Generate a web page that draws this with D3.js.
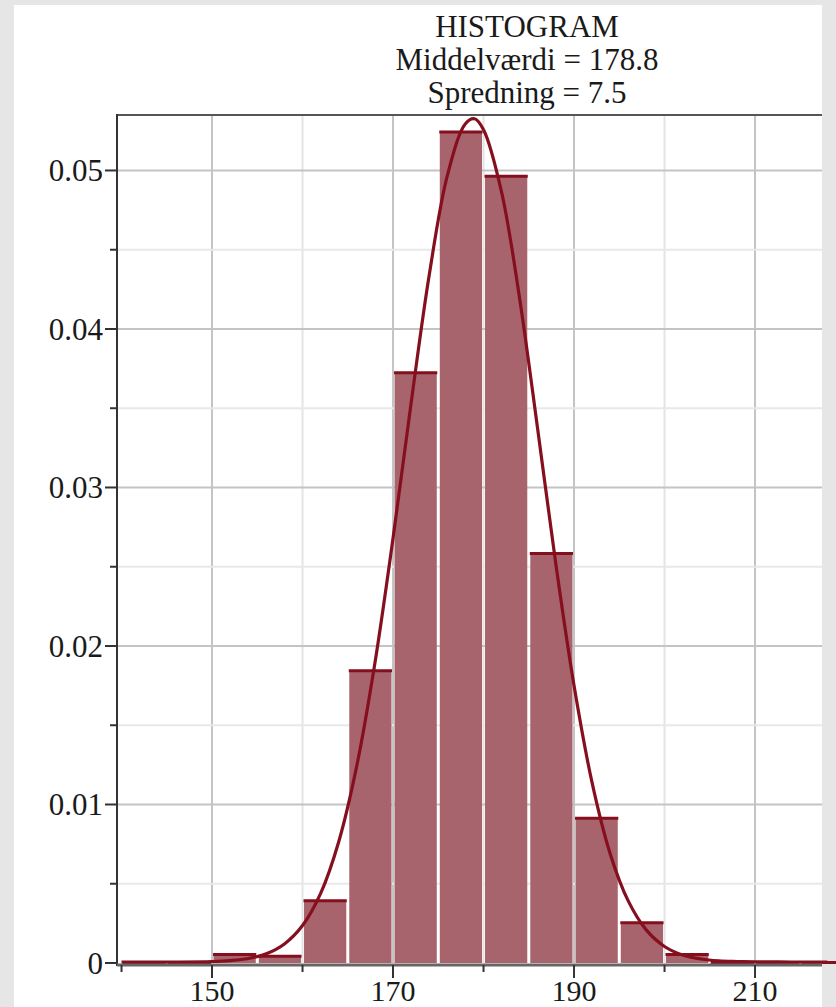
<!DOCTYPE html>
<html>
<head>
<meta charset="utf-8">
<script src="https://cdn.jsdelivr.net/npm/d3@7"></script>
<style>
  body { margin: 0; background: #e6e6e6; }
  #chart { position: absolute; left: 0; top: 0; }
</style>
</head>
<body>
<div id="chart"></div>
<script>
// histogram bins (left edges, width 5) and densities
var binStarts = [140, 145, 150, 155, 160, 165, 170, 175, 180, 185, 190, 195, 200, 205, 210, 215];
var binDensity = [0, 0, 0.0005, 0.0004, 0.0039, 0.0184, 0.0372, 0.0524, 0.0496, 0.0258, 0.0091, 0.0025, 0.0005, 0, 0, 0];
var binWidth = 5;

// fitted normal curve
var curveX = [140, 146, 150, 152, 154, 156, 158, 160, 162, 164, 166, 168, 170, 172, 174, 176, 178, 179,
              180, 182, 184, 186, 188, 190, 192, 194, 196, 198, 200, 202, 204, 206, 208, 210, 214, 218];
var curveY = [0, 0, 0.00003, 0.00009, 0.00022, 0.00052, 0.00114, 0.0023, 0.00433, 0.00759, 0.01239, 0.01886,
              0.02673, 0.03527, 0.04334, 0.04961, 0.05289, 0.0532, 0.05251, 0.04856, 0.04182, 0.03355, 0.02506,
              0.01744, 0.0113, 0.00682, 0.00384, 0.00201, 0.00098, 0.00044, 0.00019, 0.00007, 0.00003, 0.00001, 0, 0];

var titleLines = ["HISTOGRAM", "Middelværdi = 178.8", "Spredning = 7.5"];
var xMajorTicks = [150, 170, 190, 210];
var xMinorTicks = [140, 160, 180, 200];
var yMajorTicks = [0, 0.01, 0.02, 0.03, 0.04, 0.05];
var yMinorTicks = [0.005, 0.015, 0.025, 0.035, 0.045];

var W = 836, H = 1007;
var barFill = "#a8646c", darkRed = "#850f1e";
var font = "'Liberation Serif', 'Times New Roman', serif";

var svg = d3.select("#chart").append("svg").attr("width", W).attr("height", H);

// white panel
svg.append("rect").attr("x", 14).attr("y", 5).attr("width", 808).attr("height", H - 5).attr("fill", "#fff");

var x = d3.scaleLinear().domain([139.5, 217.4]).range([117, 822]);
var y = d3.scaleLinear().domain([0, 0.0535]).range([963, 115]);

var plot = svg.append("g");

// grid lines
plot.selectAll(".vminor").data(xMinorTicks.filter(function(d){ return d > 140; })).enter().append("line")
    .attr("x1", function(d){ return x(d); }).attr("x2", function(d){ return x(d); })
    .attr("y1", y.range()[1]).attr("y2", y(0))
    .attr("stroke", "#e4e4e4").attr("stroke-width", 2);
plot.selectAll(".vmajor").data(xMajorTicks).enter().append("line")
    .attr("x1", function(d){ return x(d); }).attr("x2", function(d){ return x(d); })
    .attr("y1", y.range()[1]).attr("y2", y(0))
    .attr("stroke", "#c4c4c4").attr("stroke-width", 2);
plot.selectAll(".hminor").data(yMinorTicks).enter().append("line")
    .attr("x1", x.range()[0]).attr("x2", x.range()[1])
    .attr("y1", function(d){ return y(d); }).attr("y2", function(d){ return y(d); })
    .attr("stroke", "#e8e8e8").attr("stroke-width", 2);
plot.selectAll(".hmajor").data(yMajorTicks.slice(1)).enter().append("line")
    .attr("x1", x.range()[0]).attr("x2", x.range()[1])
    .attr("y1", function(d){ return y(d); }).attr("y2", function(d){ return y(d); })
    .attr("stroke", "#c4c4c4").attr("stroke-width", 2);

// bars
var bars = binStarts.map(function(s, i){ return {x0: s, x1: s + binWidth, v: binDensity[i]}; });
plot.selectAll(".bar").data(bars).enter().append("rect")
    .attr("x", function(d){ return x(d.x0) + 1.5; })
    .attr("width", function(d){ return x(d.x1) - x(d.x0) - 3; })
    .attr("y", function(d){ return y(d.v); })
    .attr("height", function(d){ return y(0) - y(d.v); })
    .attr("fill", barFill);
plot.selectAll(".bartop").data(bars).enter().append("line")
    .attr("x1", function(d){ return x(d.x0) + 1; })
    .attr("x2", function(d){ return x(d.x1) - 1; })
    .attr("y1", function(d){ return y(d.v) - 0.5; })
    .attr("y2", function(d){ return y(d.v) - 0.5; })
    .attr("stroke", darkRed).attr("stroke-width", 3);

// normal curve
var pts = curveX.map(function(v, i){ return [v, curveY[i]]; });
var line = d3.line().x(function(d){ return x(d[0]); }).y(function(d){ return y(d[1]) - 1; })
    .curve(d3.curveCatmullRom);
plot.append("path").datum(pts).attr("d", line)
    .attr("fill", "none").attr("stroke", darkRed).attr("stroke-width", 3.2);

// frame top
svg.append("line").attr("x1", 117).attr("x2", 822).attr("y1", 115).attr("y2", 115)
    .attr("stroke", "#555").attr("stroke-width", 2);

// y axis
svg.append("line").attr("x1", 117).attr("x2", 117).attr("y1", 114).attr("y2", 966)
    .attr("stroke", "#333").attr("stroke-width", 2);
svg.selectAll(".ytick").data(yMajorTicks).enter().append("line")
    .attr("x1", 105).attr("x2", 117)
    .attr("y1", function(d){ return y(d); }).attr("y2", function(d){ return y(d); })
    .attr("stroke", "#333").attr("stroke-width", 2);
svg.selectAll(".ytickm").data(yMinorTicks).enter().append("line")
    .attr("x1", 110).attr("x2", 117)
    .attr("y1", function(d){ return y(d); }).attr("y2", function(d){ return y(d); })
    .attr("stroke", "#333").attr("stroke-width", 2);
svg.selectAll(".ylab").data(yMajorTicks).enter().append("text")
    .attr("x", 103).attr("y", function(d){ return y(d); })
    .attr("dy", "0.35em").attr("text-anchor", "end")
    .style("font-family", font).style("font-size", "31px").style("fill", "#1a1a1a")
    .text(function(d){ return d === 0 ? "0" : d3.format(".2f")(d); });

// x axis
svg.append("line").attr("x1", 117).attr("x2", 822).attr("y1", y(0) + 2).attr("y2", y(0) + 2)
    .attr("stroke", "#666").attr("stroke-width", 3);
svg.selectAll(".xtick").data(xMajorTicks).enter().append("line")
    .attr("x1", function(d){ return x(d); }).attr("x2", function(d){ return x(d); })
    .attr("y1", y(0) + 2).attr("y2", y(0) + 15)
    .attr("stroke", "#333").attr("stroke-width", 2);
svg.selectAll(".xtickm").data(xMinorTicks).enter().append("line")
    .attr("x1", function(d){ return x(d); }).attr("x2", function(d){ return x(d); })
    .attr("y1", y(0) + 2).attr("y2", y(0) + 9)
    .attr("stroke", "#333").attr("stroke-width", 2);
svg.selectAll(".xlab").data(xMajorTicks).enter().append("text")
    .attr("x", function(d){ return x(d); }).attr("y", 1001)
    .attr("text-anchor", "middle")
    .style("font-family", font).style("font-size", "30px").style("fill", "#1a1a1a")
    .text(function(d){ return d; });

// title
svg.selectAll(".title").data(titleLines).enter().append("text")
    .attr("x", 527).attr("y", function(d, i){ return 37 + i * 33; })
    .attr("text-anchor", "middle")
    .style("font-family", font).style("font-size", "31px").style("fill", "#1a1a1a")
    .text(function(d){ return d; });
</script>
</body>
</html>
